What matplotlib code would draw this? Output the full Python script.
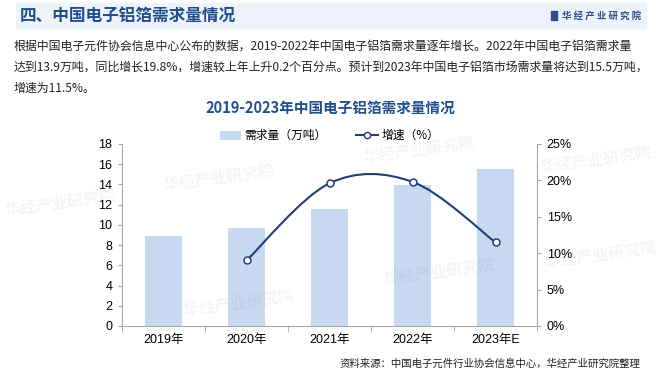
import numpy as np
import matplotlib
matplotlib.use('Agg')
import matplotlib.pyplot as plt
from matplotlib.path import Path
from matplotlib.patches import PathPatch, Rectangle, Patch
from matplotlib.lines import Line2D

plt.rcParams['font.family'] = ['Noto Sans CJK SC', 'DejaVu Sans']

years = ['2019年', '2020年', '2021年', '2022年', '2023年E']
demand = [8.9, 9.7, 11.6, 13.9, 15.5]          # 万吨
growth = [None, 9.0, 19.6, 19.8, 11.5]         # %

header = '四、中国电子铝箔需求量情况'
brand = '华 经 产 业 研 究 院'
para = ['根据中国电子元件协会信息中心公布的数据，2019-2022年中国电子铝箔需求量逐年增长。2022年中国电子铝箔需求量',
        '达到13.9万吨，同比增长19.8%，增速较上年上升0.2个百分点。预计到2023年中国电子铝箔市场需求量将达到15.5万吨，',
        '增速为11.5%。']
chart_title = '2019-2023年中国电子铝箔需求量情况'
source = '资料来源：中国电子元件行业协会信息中心，华经产业研究院整理'

navy = '#1f3f7a'
bar_c = '#c6d9f1'
axis_c = '#a6a6a6'
num_font = ['Liberation Sans', 'Noto Sans CJK SC']

fig = plt.figure(figsize=(6.6, 3.75), dpi=100)
W, H = 660, 375

def fx(px):
    return px / W

def fy(py):
    return 1 - py / H

# header band
fig.patches.append(Rectangle((fx(16), fy(28)), fx(630), 25 / H, transform=fig.transFigure,
                             color='#eef2f9', zorder=0))
fig.text(fx(20), fy(16), header, fontsize=12, fontweight='bold', color='#1f4e8c', va='center')
fig.patches.append(Rectangle((fx(551), fy(20)), fx(6), 9 / H, transform=fig.transFigure,
                             color='#2b4f8c', zorder=1))
fig.text(fx(562), fy(16), brand, fontsize=6.8, fontweight='bold', color='#2b4f8c', va='center')

# paragraph
for i, line in enumerate(para):
    fig.text(fx(14), fy(46 + 21 * i), line, fontsize=8.6, color='#222222', va='center')

fig.text(fx(330), fy(108), chart_title, fontsize=10.5, fontweight='bold', color='#1f4e8c',
         ha='center', va='center')

# watermarks
wm = [(163, 178), (363, 150), (383, 272), (183, 303), (4, 203), (540, 160), (545, 255)]
for x, y in wm:
    fig.text(fx(x), fy(y), '华经产业研究院', fontsize=11.5, fontweight='bold', color='#000000',
             alpha=0.045, rotation=8, va='center', zorder=0)

ax = fig.add_axes([fx(122), fy(326), fx(415), (326 - 144) / H])
x = np.arange(len(years))
ax.bar(x, demand, width=0.44, color=bar_c, zorder=2)
ax.set_xlim(-0.5, len(years) - 0.5)
ax.set_ylim(0, 18)
ax.set_yticks(range(0, 19, 2))
ax.set_xticks(x)
ax.set_xticklabels(years, family=num_font, fontsize=9)
ax.set_xticks(np.arange(-0.5, len(years), 1.0), minor=True)
ax.tick_params(axis='x', which='major', length=0, pad=6)
ax.tick_params(axis='x', which='minor', length=4, color=axis_c, direction='out')
ax.tick_params(axis='y', length=3, color=axis_c, labelsize=9, pad=4)
for lab in ax.get_yticklabels():
    lab.set_family(num_font)
for s in ['top', 'right']:
    ax.spines[s].set_visible(False)
for s in ['left', 'bottom']:
    ax.spines[s].set_color(axis_c)

ax2 = ax.twinx()
ax2.set_ylim(0, 25)
ax2.set_yticks(range(0, 26, 5))
ax2.set_yticklabels([f'{v}%' for v in range(0, 26, 5)], family=num_font, fontsize=9)
ax2.tick_params(axis='y', length=3, color=axis_c, pad=4)
for s in ['top', 'left', 'bottom']:
    ax2.spines[s].set_visible(False)
ax2.spines['right'].set_color(axis_c)

# smoothed growth line (bezier through the data points)
gx = np.array([i for i, g in enumerate(growth) if g is not None], dtype=float)
gy = np.array([g for g in growth if g is not None], dtype=float)
pts = np.column_stack([gx, gy])
verts = [pts[0]]
codes = [Path.MOVETO]
n = len(pts)
for i in range(n - 1):
    p0 = pts[max(i - 1, 0)]
    p1 = pts[i]
    p2 = pts[i + 1]
    p3 = pts[min(i + 2, n - 1)]
    verts += [p1 + (p2 - p0) / 6, p2 - (p3 - p1) / 6, p2]
    codes += [Path.CURVE4] * 3
ax2.add_patch(PathPatch(Path(verts, codes), fill=False, edgecolor=navy, lw=1.5, zorder=3))
ax2.plot(gx, gy, ls='none', marker='o', ms=5, mfc='white', mec=navy, mew=1.1, zorder=4)

handles = [Patch(facecolor=bar_c, edgecolor='none'),
           Line2D([], [], color=navy, lw=1.5, marker='o', ms=4.5, mfc='white', mec=navy)]
ax.legend(handles, ['需求量（万吨）', '增速（%）'], loc='center', bbox_to_anchor=(0.5, 1.045),
          ncol=2, frameon=False, fontsize=8.5, handlelength=1.8, handleheight=0.8,
          columnspacing=2.5, handletextpad=0.3, borderaxespad=0)

fig.text(fx(640), fy(364), source, fontsize=7.5, color='#222222', ha='right', va='center')

fig.savefig('out.png', dpi=100)
